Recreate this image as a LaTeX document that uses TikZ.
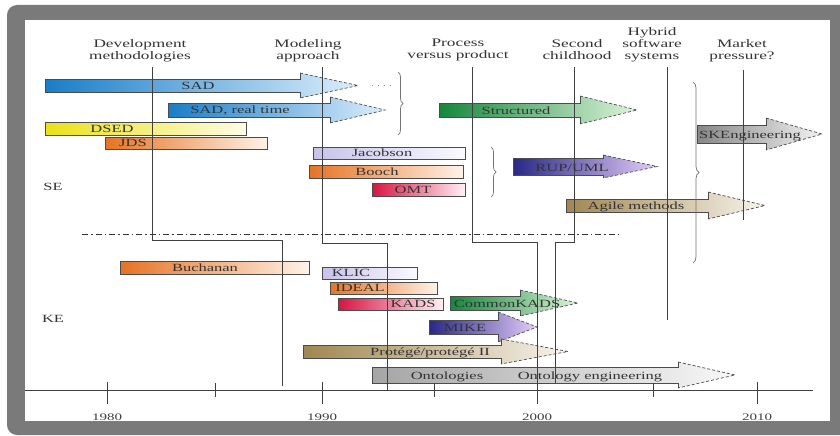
\documentclass[tikz,border=0pt]{standalone}
\usepackage{fontspec}
\setmainfont[FakeStretch=1.5]{Liberation Serif}
\usetikzlibrary{decorations.pathreplacing}

\definecolor{framegray}{RGB}{122,122,122}
\definecolor{sadA}{RGB}{25,125,200}   \definecolor{sadB}{RGB}{220,238,252}
\definecolor{yelA}{RGB}{235,225,20}   \definecolor{yelB}{RGB}{255,253,230}
\definecolor{oraA}{RGB}{230,115,35}   \definecolor{oraB}{RGB}{255,242,232}
\definecolor{lavA}{RGB}{198,194,235}  \definecolor{lavB}{RGB}{250,250,255}
\definecolor{crmA}{RGB}{215,20,65}    \definecolor{crmB}{RGB}{255,240,245}
\definecolor{grnA}{RGB}{20,135,60}    \definecolor{grnB}{RGB}{222,244,218}
\definecolor{navA}{RGB}{40,40,135}    \definecolor{navB}{RGB}{228,205,248}
\definecolor{khaA}{RGB}{160,135,80}   \definecolor{khaB}{RGB}{248,244,236}
\definecolor{gryA}{RGB}{135,135,135}  \definecolor{gryB}{RGB}{242,242,242}
\definecolor{ontA}{RGB}{165,165,165}  \definecolor{ontB}{RGB}{248,248,248}

% plain period bar: x0, x1, ytop, ybottom, dark colour, light colour
\newcommand{\tlbar}[6]{%
  \shade[left color=#5, right color=#6] (#1,#3) rectangle (#2,#4);
  \draw[barline] (#1,#3) rectangle (#2,#4);}

% ongoing trend arrow: x0, shaft end, tip, ytop, ybottom, head overhang, dark, light
\newcommand{\tlarrow}[8]{%
  \shade[left color=#7, right color=#8]
    (#1,#4) -- (#2,#4) -- (#2,#4-#6) -- (#3,{(#4+#5)/2}) -- (#2,#5+#6)
    -- (#2,#5) -- (#1,#5) -- cycle;
  \draw[barline] (#2,#4-#6) -- (#2,#4) -- (#1,#4) -- (#1,#5) -- (#2,#5) -- (#2,#5+#6);
  \draw[headline] (#2,#4-#6) -- (#3,{(#4+#5)/2}) -- (#2,#5+#6);}

\begin{document}
\begin{tikzpicture}[x=1pt,y=-1pt,
  hdr/.style={font=\fontsize{11.5}{12}\selectfont, text=black!80, align=center,
              anchor=north, inner sep=0pt},
  lbl/.style={font=\fontsize{11}{12}\selectfont, text=black!80, inner sep=0pt, anchor=base},
  yr/.style={font=\fontsize{10}{12}\selectfont, text=black!75, inner sep=0pt, anchor=base},
  era/.style={draw=black!75, line width=0.8pt},
  barline/.style={draw=black!70, line width=0.7pt},
  headline/.style={draw=black!70, line width=0.7pt, dash pattern=on 3pt off 2pt},
  curly/.style={draw=black!55, line width=0.7pt, decorate,
                decoration={brace, amplitude=#1}},
]
\useasboundingbox (0,0) rectangle (840,436);

% frame
\fill[white] (0,0) rectangle (840,436);
\fill[framegray, rounded corners=10pt] (7,5) rectangle (870,435);
\fill[white] (25,20) rectangle (830,421);

% ---- software engineering trends
\tlarrow{45}{300}{358}{79}{92}{6}{sadA}{sadB}
\draw[black!45, line width=1pt, dash pattern=on 1pt off 5pt] (372,85) -- (396,85);
\tlarrow{168}{330}{385}{103}{117}{6}{sadA}{sadB}
\tlbar{45}{246}{122}{135}{yelA}{yelB}
\tlbar{105}{267}{137}{149}{oraA}{oraB}
\tlbar{313}{465}{147}{159}{lavA}{lavB}
\tlbar{309}{463}{165}{178}{oraA}{oraB}
\tlbar{372}{465}{183}{196}{crmA}{crmB}
\tlarrow{439}{580}{637}{103}{117}{7}{grnA}{grnB}
\tlarrow{513}{603}{657}{158}{175}{3}{navA}{navB}
\tlarrow{566}{708}{765}{199}{212}{7}{khaA}{khaB}
\tlarrow{697}{766}{822}{125}{143}{7}{gryA}{gryB}

% ---- knowledge engineering trends
\tlbar{120}{309}{261}{274}{oraA}{oraB}
\tlbar{322}{417}{267}{279}{lavA}{lavB}
\tlbar{330}{437}{282}{294}{oraA}{oraB}
\tlbar{338}{443}{298}{310}{crmA}{crmB}
\tlarrow{450}{520}{578}{296}{310}{6}{grnA}{grnB}
\tlarrow{429}{498}{537}{320}{334}{8}{navA}{navB}
\tlarrow{303}{501}{568}{345}{358}{6}{khaA}{khaB}
\tlarrow{372}{678}{735}{367}{383}{5}{ontA}{ontB}

% braces grouping trends
\draw[curly=5pt] (398,72) -- (398,135);
\draw[curly=5pt] (491,147) -- (491,197);
\draw[curly=6pt] (693,82) -- (693,263);

% SE / KE separator
\draw[black!80, line width=0.9pt, dash pattern=on 6pt off 3pt on 1.5pt off 3pt]
  (82,234) -- (620,234);

% era markers
\draw[era] (152,67) -- (152,240) -- (282,240) -- (282,386);
\draw[era] (322,67) -- (322,243) -- (387,243) -- (387,390);
\draw[era] (472,67) -- (472,242) -- (537,242) -- (537,404);
\draw[era] (574,67) -- (574,242) -- (555,242) -- (555,383);
\draw[era] (667,67) -- (667,320);
\draw[era] (743,70) -- (743,220);

% time axis
\draw[era] (25,390) -- (813,390);
\foreach \tx in {107,322,757} \draw[era] (\tx,382) -- (\tx,404);
\foreach \tx in {215,434,653} \draw[era] (\tx,383) -- (\tx,397);
\node[yr] (y1980) at (107,420) {1980};
\node[yr] (y1990) at (322,420) {1990};
\node[yr] (y2000) at (537,420) {2000};
\node[yr] (y2010) at (757,420) {2010};

% era headings
\node[hdr] (hdev) at (140,39) {Development\\methodologies};
\node[hdr] (hmod) at (308,39) {Modeling\\approach};
\node[hdr] (hpro) at (458,39) {Process\\versus product};
\node[hdr] (hsec) at (577,39) {Second\\childhood};
\node[hdr] (hhyb) at (652,27) {Hybrid\\software\\systems};
\node[hdr] (hmkt) at (742,39) {Market\\pressure?};

% domain labels
\node[lbl] (se) at (53,190) {SE};
\node[lbl] (ke) at (53,322) {KE};

% trend labels
\node[lbl] (sad)   at (198,89.5)  {SAD};
\node[lbl] (sadrt) at (240,113.5) {SAD, real time};
\node[lbl] (dsed)  at (112,132.5) {DSED};
\node[lbl] (jds)   at (133,146.5) {JDS};
\node[lbl] (jac)   at (382,156.5) {Jacobson};
\node[lbl] (booch) at (377,175.5) {Booch};
\node[lbl] (omt)   at (413,193.5) {OMT};
\node[lbl] (struc) at (516,114.5) {Structured};
\node[lbl] (rup)   at (572,171)   {RUP/UML};
\node[lbl] (agile) at (636,209.5) {Agile methods};
\node[lbl] (ske)   at (750,138)   {SKEngineering};
\node[lbl] (buch)  at (205,271.5) {Buchanan};
\node[lbl] (klic)  at (351,276.5) {KLIC};
\node[lbl] (ideal) at (360,291.5) {IDEAL};
\node[lbl] (kads)  at (413,307.5) {KADS};
\node[lbl] (ckads) at (507,307)   {CommonKADS};
\node[lbl] (mike)  at (465,331)   {MIKE};
\node[lbl] (prot)  at (430,355.5) {Protégé/protégé II};
\node[lbl] (onto)  at (447,379.5) {Ontologies};
\node[lbl] (onteng) at (590,379.5) {Ontology engineering};
\end{tikzpicture}
\end{document}
